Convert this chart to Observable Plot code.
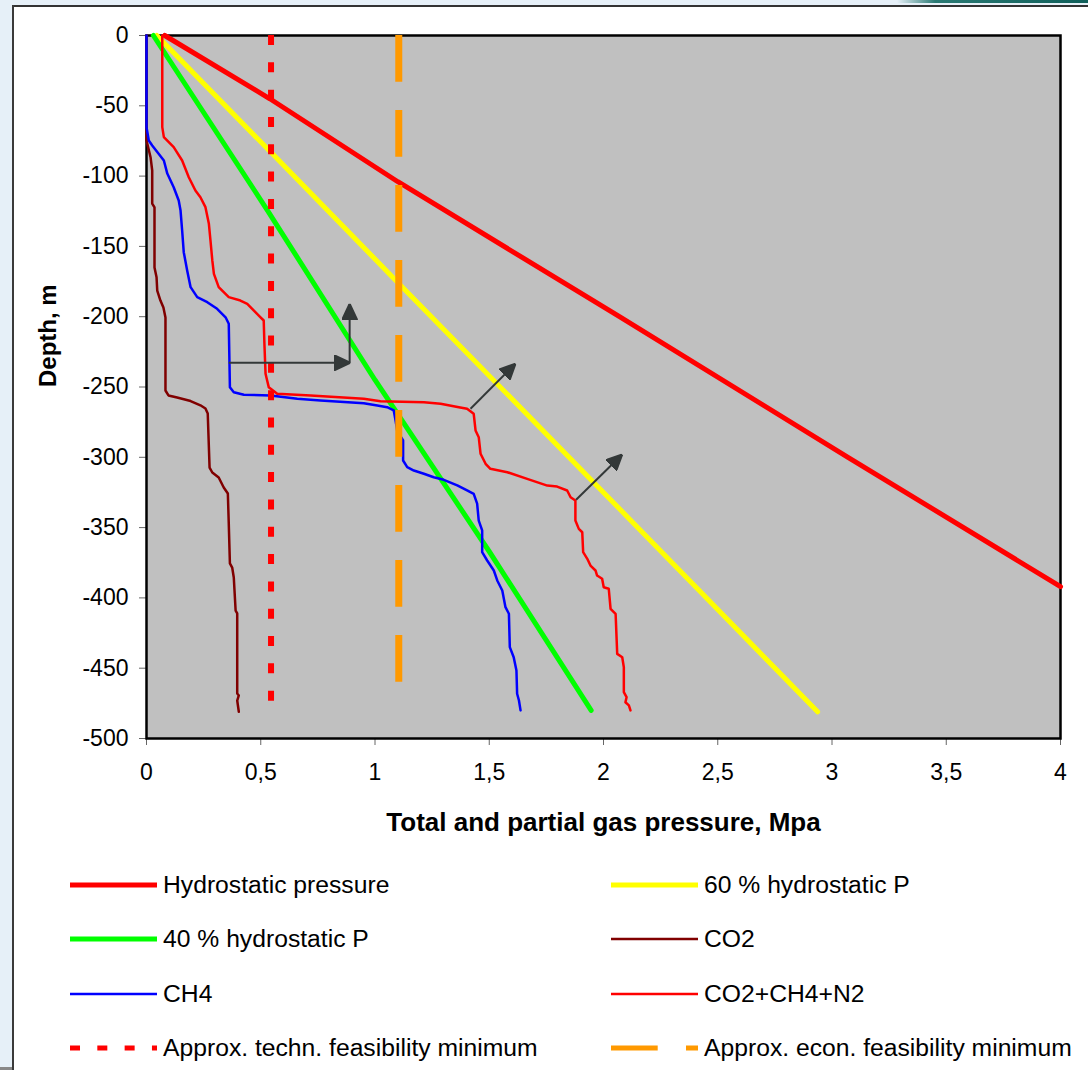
<!DOCTYPE html>
<html>
<head>
<meta charset="utf-8">
<script src="https://cdn.jsdelivr.net/npm/d3@7"></script>
<script src="https://cdn.jsdelivr.net/npm/@observablehq/plot@0.6"></script>
<style>
  body { margin: 0; background: #fff; }
  #page { position: relative; width: 1088px; height: 1070px; background: #fff; overflow: hidden;
          font-family: "Liberation Sans", Arial, sans-serif; }
  .deco { position: absolute; }
  #chart { position: absolute; left: 0; top: 0; }
  #legend { position: absolute; left: 70px; top: 858px; display: grid;
            grid-template-columns: 541px 460px; grid-auto-rows: 54.3px; }
  .item { display: flex; align-items: center; font-size: 24.7px; color: #000; white-space: nowrap; }
  .item svg { margin-right: 6px; flex: none; }
</style>
</head>
<body>
<div id="page">
  <div class="deco" style="left:0;top:0;width:1088px;height:5px;background:#E6F0F8"></div>
  <div class="deco" style="left:0;top:0;width:12px;height:1070px;background:#E6F0F8"></div>
  <div class="deco" style="left:897px;top:0;width:191px;height:3px;background:linear-gradient(to right,#E6F0F8,#2a7a74 20%,#0f5f5a)"></div>
  <div class="deco" style="left:12px;top:5px;width:1076px;height:2px;background:#333"></div>
  <div class="deco" style="left:12px;top:5px;width:2px;height:1065px;background:#3a3a3a"></div>
  <div class="deco" style="left:0;top:1067px;width:12px;height:3px;background:#888"></div>
  <div id="chart"></div>
  <div id="legend"></div>
</div>
<script>
// ---- axis ticks ----
const xTicks = [0, 0.5, 1, 1.5, 2, 2.5, 3, 3.5, 4];
const yTicks = [0, -50, -100, -150, -200, -250, -300, -350, -400, -450, -500];

// ---- series: [pressure MPa, depth m] ----
const hydrostatic = [[0.08, 0], [0.54, -45], [1.10, -104], [2.07, -200], [3.07, -300], [4.0, -392]];
const hydro60 = [[0.045, 0], [0.55, -84], [1.09, -174], [2.0, -325], [2.937, -481]];
const hydro40 = [[0.03, 0], [0.53, -124.5], [1.0, -245], [1.5, -367], [1.946, -480]];

const co2 = [
  [0, 0], [0, -74.7], [0.018, -86.8], [0.025, -96], [0.025, -119.5], [0.035, -122.3], [0.035, -165],
  [0.044, -172], [0.047, -181.4], [0.061, -188.5], [0.074, -193.5], [0.083, -200.6], [0.083, -252.5],
  [0.096, -256], [0.134, -257.5], [0.193, -260], [0.236, -263], [0.258, -265.3], [0.268, -268.8],
  [0.276, -307.3], [0.288, -310.8], [0.316, -314.4], [0.338, -321.5], [0.356, -325.7], [0.36, -347],
  [0.365, -375.5], [0.375, -378.4], [0.382, -385.5], [0.39, -409], [0.397, -411], [0.397, -468],
  [0.404, -469.4], [0.397, -473], [0.404, -481]
];

const ch4 = [
  [0, 0], [0, -65.2], [0.01, -74.7], [0.025, -78.2], [0.076, -88.9], [0.091, -98.2], [0.119, -107.9],
  [0.141, -117.4], [0.149, -124.5], [0.156, -138.7], [0.163, -154.1], [0.178, -167.1], [0.193, -179],
  [0.222, -186.1], [0.266, -189.7], [0.309, -194.4], [0.346, -200.4], [0.36, -205], [0.365, -250.1],
  [0.382, -253.7], [0.426, -255.5], [0.543, -256], [0.66, -258.4], [0.761, -259.6], [0.951, -261.5],
  [1.01, -263.2], [1.053, -264.4], [1.082, -266.7], [1.09, -273.8], [1.097, -281], [1.123, -288],
  [1.123, -302.3], [1.141, -307], [1.17, -309.4], [1.214, -311.7], [1.257, -314.2], [1.301, -316],
  [1.36, -320], [1.403, -323.6], [1.432, -326], [1.447, -333], [1.454, -345], [1.469, -352],
  [1.469, -367.5], [1.491, -373.4], [1.52, -380.5], [1.535, -387.6], [1.557, -394.7], [1.571, -406.6],
  [1.586, -411.3], [1.59, -435], [1.607, -442.2], [1.619, -451.6], [1.622, -468.2], [1.63, -473],
  [1.637, -480]
];

const mix = [
  [0.069, 0], [0.069, -65.2], [0.076, -72.3], [0.119, -79.4], [0.156, -88.9], [0.185, -100.8],
  [0.214, -110.2], [0.236, -115], [0.258, -122.1], [0.273, -133.9], [0.28, -145.8], [0.288, -160],
  [0.295, -169.5], [0.316, -179], [0.36, -186.1], [0.411, -188.5], [0.441, -190.8], [0.47, -195.6],
  [0.499, -200.4], [0.513, -202.7], [0.516, -219.3], [0.521, -240.6], [0.528, -245.4], [0.535, -250.1],
  [0.572, -254.8], [0.718, -256], [0.951, -258.4], [1.024, -260.1], [1.214, -260.8], [1.287, -261.9],
  [1.367, -264.4], [1.403, -265.5], [1.432, -269.1], [1.44, -280.9], [1.454, -285.7], [1.462, -297.5],
  [1.484, -304.6], [1.505, -308.2], [1.579, -310.6], [1.666, -315.3], [1.754, -320.1], [1.797, -320.8],
  [1.841, -323.6], [1.856, -328.4], [1.877, -330.7], [1.877, -345], [1.892, -350.9], [1.907, -353.3],
  [1.911, -367.5], [1.929, -372.2], [1.943, -377], [1.965, -380.5], [1.972, -384.1], [1.994, -386.4],
  [2.001, -392.4], [2.023, -393.5], [2.031, -407.8], [2.053, -411.3], [2.06, -439.8], [2.082, -442.2],
  [2.089, -449.3], [2.089, -467], [2.101, -470.6], [2.096, -474.2], [2.111, -476.5], [2.118, -480]
];

// ---- feasibility minima: pressure and depth extent ----
const techMin = {p: 0.545, top: 0, bottom: -473.5};
const econMin = {p: 1.104, top: 0, bottom: -461};

// ---- arrows [x1, y1, x2, y2] ----
const arrows = [
  [0.36, -232.8, 0.892, -232.8],
  [0.889, -232.8, 0.889, -190.8],
  [1.418, -265.5, 1.615, -233.4],
  [1.88, -330.2, 2.082, -298]
];

// ---- legend ----
const legendNames = [
  "Hydrostatic pressure", "60 % hydrostatic P",
  "40 % hydrostatic P", "CO2",
  "CH4", "CO2+CH4+N2",
  "Approx. techn. feasibility minimum", "Approx. econ. feasibility minimum"
];

// styles (kept separate from data)
const style = {
  "Hydrostatic pressure": {stroke: "#FF0000", width: 5},
  "60 % hydrostatic P": {stroke: "#FFFF00", width: 5},
  "40 % hydrostatic P": {stroke: "#00FF00", width: 5},
  "CO2": {stroke: "#800000", width: 2.5},
  "CH4": {stroke: "#0000FF", width: 2.5},
  "CO2+CH4+N2": {stroke: "#FF0000", width: 2.5},
  "Approx. techn. feasibility minimum": {stroke: "#FF0000", width: 6, dash: "10,17.32"},
  "Approx. econ. feasibility minimum": {stroke: "#FF9900", width: 7, dash: "46.7,28.3"}
};

function filledArrow(color) {
  const ns = "http://www.w3.org/2000/svg";
  const m = document.createElementNS(ns, "marker");
  m.setAttribute("viewBox", "-16 -8 16 16");
  m.setAttribute("markerWidth", 16);
  m.setAttribute("markerHeight", 16);
  m.setAttribute("markerUnits", "userSpaceOnUse");
  m.setAttribute("refX", 0);
  m.setAttribute("refY", 0);
  m.setAttribute("orient", "auto");
  const p = document.createElementNS(ns, "path");
  p.setAttribute("d", "M-16,-7.5L0,0L-16,7.5Z");
  p.setAttribute("fill", color);
  m.appendChild(p);
  return m;
}

const lineOf = (data, name) => Plot.line(data, {
  x: d => d[0], y: d => d[1],
  stroke: style[name].stroke, strokeWidth: style[name].width
});

const chart = Plot.plot({
  width: 1088,
  height: 850,
  marginLeft: 146,
  marginRight: 28,
  marginTop: 35,
  marginBottom: 112,
  style: {background: "none", fontFamily: "'Liberation Sans', Arial, sans-serif", color: "#000"},
  x: {domain: [0, 4], label: null},
  y: {domain: [-500, 0], label: null},
  marks: [
    Plot.frame({fill: "#C0C0C0"}),
    Plot.axisX({ticks: xTicks, tickFormat: d => String(d).replace(".", ","), tickSize: 7,
                tickPadding: 18, fontSize: 23, stroke: "#666", label: null}),
    Plot.axisY({ticks: yTicks, tickFormat: d => String(d), tickSize: 7,
                tickPadding: 11, fontSize: 23, stroke: "#666", label: null}),
    Plot.frame({stroke: "#000", strokeWidth: 2.5}),
    lineOf(hydrostatic, "Hydrostatic pressure"),
    lineOf(hydro60, "60 % hydrostatic P"),
    lineOf(hydro40, "40 % hydrostatic P"),
    lineOf(co2, "CO2"),
    lineOf(ch4, "CH4"),
    lineOf(mix, "CO2+CH4+N2"),
    Plot.ruleX([techMin], {x: "p", y1: "top", y2: "bottom",
      stroke: style["Approx. techn. feasibility minimum"].stroke,
      strokeWidth: style["Approx. techn. feasibility minimum"].width,
      strokeDasharray: style["Approx. techn. feasibility minimum"].dash}),
    Plot.ruleX([econMin], {x: "p", y1: "top", y2: "bottom",
      stroke: style["Approx. econ. feasibility minimum"].stroke,
      strokeWidth: style["Approx. econ. feasibility minimum"].width,
      strokeDasharray: style["Approx. econ. feasibility minimum"].dash}),
    Plot.link(arrows, {x1: d => d[0], y1: d => d[1], x2: d => d[2], y2: d => d[3],
      stroke: "#333838", strokeWidth: 2, markerEnd: filledArrow}),
    Plot.text(["Total and partial gas pressure, Mpa"], {text: d => d, frameAnchor: "bottom",
      lineAnchor: "middle", dy: 84, fontSize: 26, fontWeight: "bold", fill: "#000"}),
    Plot.text(["Depth, m"], {text: d => d, frameAnchor: "left", rotate: -90, dx: -98,
      fontSize: 24, fontWeight: "bold", fill: "#000"})
  ]
});
document.getElementById("chart").appendChild(chart);

// ---- legend (HTML below the SVG) ----
const legend = document.getElementById("legend");
for (const name of legendNames) {
  const s = style[name];
  const item = document.createElement("div");
  item.className = "item";
  const w = 87;
  item.innerHTML =
    `<svg width="${w}" height="12"><line x1="0" x2="${w}" y1="6" y2="6" stroke="${s.stroke}" ` +
    `stroke-width="${Math.min(s.width, 5)}" ${s.dash ? `stroke-dasharray="${s.dash}"` : `stroke-linecap="round"`}/></svg>` +
    `<span>${name}</span>`;
  legend.appendChild(item);
}
</script>
</body>
</html>
